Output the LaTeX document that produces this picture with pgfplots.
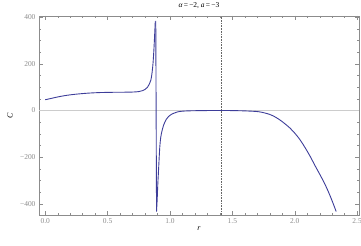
\documentclass[border=0pt]{standalone}
\usepackage{fontspec}
\setmainfont{Liberation Serif}
\usepackage{pgfplots}
\pgfplotsset{compat=1.18}
\definecolor{mblue}{rgb}{0.24,0.24,0.6}
\definecolor{tickgray}{gray}{0.55}
\begin{document}
\begin{tikzpicture}
\begin{axis}[
  scale only axis, width=320bp, height=199bp,
  xmin=-0.05, xmax=2.515, ymin=-448, ymax=405,
  axis line style={tickgray, line width=0.5pt},
  xtick={0,0.5,...,2.5}, minor xtick={0,0.1,...,2.5},
  ytick={-400,-200,0,200,400}, minor ytick={-400,-350,...,400},
  xticklabels={0.0,0.5,1.0,1.5,2.0,2.5},
  yticklabels={−400,−200,0,200,400},
  tick style={tickgray, line width=0.4pt},
  major tick length=4bp, minor tick length=2bp,
  tick align=inside,
  xtick pos=both, ytick pos=both,
  xticklabel pos=bottom, yticklabel pos=left,
  ticklabel style={font=\fontsize{7.5}{8}\selectfont, text=tickgray},
  xlabel={\itshape r}, ylabel={\itshape C},
  label style={font=\fontsize{8}{9}\selectfont},
  xlabel style={at={(axis description cs:0.5,0)}, yshift=-8bp},
  ylabel style={at={(axis description cs:0,0.5)}, anchor=center, rotate=0, yshift=29bp},
  title={{\itshape α}\,=\,−2, {\itshape a}\,=\,−3},
  title style={font=\fontsize{7.5}{8}\selectfont, yshift=-2bp},
  clip=true,
]
\addplot[gray!40, line width=0.5pt] coordinates {(-0.05,0) (2.515,0)};
\addplot[black!60, dash pattern=on 0.8pt off 0.8pt, line width=1pt] coordinates {(1.4142,-448) (1.4142,405)};
\addplot[mblue, line width=0.9pt, smooth, tension=0.6] coordinates {
(0,46) (0.05,52) (0.1,58) (0.15,63) (0.2,67) (0.25,70) (0.3,72.5) (0.35,74.5) (0.4,76) (0.45,77) (0.5,77.5) (0.55,78) (0.6,78) (0.65,78.5) (0.7,79) (0.75,81) (0.78,85) (0.8,90) (0.82,100) (0.835,114) (0.847,131) (0.857,165) (0.865,210) (0.872,270) (0.878,335) (0.882,382)
};
\addplot[mblue, line width=0.9pt] coordinates {(0.882,382) (0.886,382) (0.892,-433)};
\addplot[mblue, line width=0.9pt, smooth, tension=0.6] coordinates {
(0.892,-433) (0.897,-385) (0.902,-320) (0.908,-258) (0.915,-185) (0.921,-138) (0.93,-102) (0.948,-64) (0.97,-38) (0.988,-26) (1.02,-14) (1.055,-7) (1.1,-3) (1.2,-1) (1.4,0) (1.55,-1) (1.65,-3) (1.72,-6) (1.8,-17) (1.85,-30) (1.9,-48) (1.963,-76) (2.0,-97) (2.043,-126) (2.08,-157) (2.123,-196) (2.16,-234) (2.204,-277) (2.24,-314) (2.27,-349) (2.3,-388) (2.332,-433)
};
\coordinate (bl) at (rel axis cs:0,0);
\coordinate (tr) at (rel axis cs:1,1);
\end{axis}
\pgfresetboundingbox
\path[use as bounding box] ([shift={(-39bp,-31bp)}]bl) rectangle ([shift={(2bp,16bp)}]tr);
\end{tikzpicture}
\end{document}
